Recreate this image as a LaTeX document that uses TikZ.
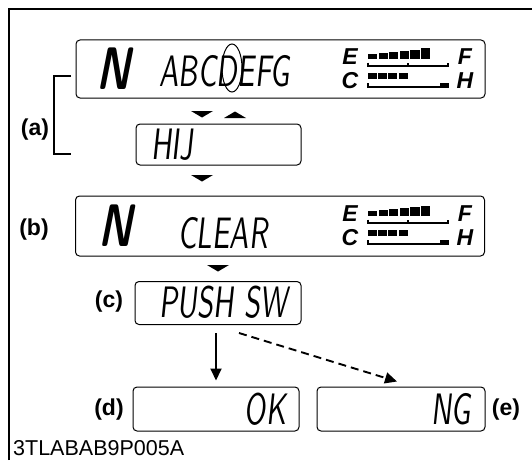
\documentclass[tikz,border=0pt]{standalone}
\usepackage{fontspec}
\setmainfont{Liberation Sans}
\newfontfamily\lcdfont{lmsans10-regular.otf}
\newfontfamily\lcdbfont{lmsans10-bold.otf}
\usetikzlibrary{arrows.meta,calc}

\begin{document}
\begin{tikzpicture}[x=1pt, y=-1pt,
        lcdbox/.style={draw, rounded corners=4pt, line width=1pt, inner sep=0pt},
        bigbox/.style={lcdbox, minimum width=409pt, minimum height=58pt},
        smallbox/.style={lcdbox, minimum width=166pt, minimum height=43pt},
        lcd/.style={inner sep=0pt, font=\lcdfont\fontsize{44}{44}\selectfont, xscale=0.66, xslant=0.16},
        gear/.style={inner sep=0pt, font=\lcdbfont\fontsize{60}{60}\selectfont, xscale=0.7, xslant=0.28},
        gaugetxt/.style={inner sep=0pt, font=\bfseries\itshape\fontsize{23}{23}\selectfont},
        tag/.style={inner sep=0pt, font=\bfseries\fontsize{23}{23}\selectfont},
        arr/.style={-{Triangle[length=12pt,width=11pt]}, line width=1.9pt}]
        \useasboundingbox (0,0) rectangle (532,460);
        % frame
        \path[draw, line width=1.6pt](9,460)--(9,9)--(532,9);
        % displays
        \node[bigbox] (top) at (280.5,69) {};
        \node[lcdbox, minimum width=165pt, minimum height=41pt] (hij) at (218.5,144.5) {};
        \node[bigbox, minimum height=60pt] (clr) at (280,226) {};
        \node[smallbox] (push) at (218,303) {};
        \node[smallbox, minimum height=44pt] (ok) at (216,409) {};
        \node[smallbox, minimum height=44pt, minimum width=168pt] (ng) at (401,409) {};
        % texts
        \node[gear] (gear1) at (117,69) {N};
        \node[lcd] (abc) at (226.5,71) {ABCDEFG};
        \path[draw, line width=1pt](232,68) ellipse [x radius=10, y radius=24];
        \node[lcd] (hijtxt) at (174,145) {HIJ};
        \node[gear] (gear2) at (119,226) {N};
        \node[lcd] (clrtxt) at (224.5,233) {CLEAR};
        \node[lcd] (pushtxt) at (225,302) {PUSH SW};
        \node[lcd, anchor=east] (oktxt) at (288,409) {OK};
        \node[lcd, anchor=east] (ngtxt) at (473,409) {NG};
        % gauges
        \foreach \dy in {0,157}
        {
            \begin{scope}[shift={(0,\dy)}]
                \node[gaugetxt] (E\dy) at (350,56.5) {E};
                \node[gaugetxt] (C\dy) at (350,80.5) {C};
                \node[gaugetxt] (F\dy) at (465,56.5) {F};
                \node[gaugetxt] (H\dy) at (465,80.5) {H};
                \foreach \i in {0,...,5}
                {
                    \path[fill](368+\i*10.6,59) rectangle ++(9.2,-5-\i*1.1);
                }
                \foreach \i in {0,...,3}
                {
                    \path[fill](368+\i*10.2,72.5) rectangle ++(8.9,6.5);
                }
                \path[draw, line width=1.3pt](368,62.5)--(368,66)--(448,66)--(448,62.5);
                \path[draw, line width=1.3pt](408,66)--(408,62.5);
                \path[draw, line width=1.3pt](368,83)--(368,87)--(448,87);
                \path[fill](440,83)rectangle(448.6,87.6);
            \end{scope}
        }
        % cursor marks
        \foreach \cx/\cy in {202/111, 202/175, 218/265}
        {
            \path[fill](\cx-11,\cy)--(\cx+11,\cy)--(\cx,\cy+6.5)--cycle;
        }
        \path[fill](224,118)--(246,118)--(235,111.5)--cycle;
        % bracket and labels
        \path[draw, line width=1.5pt](71,76)-|(54,154)--(71,154);
        \node[tag] (la) at (35,130) {(a)};
        \node[tag] (lb) at (34,230) {(b)};
        \node[tag] (lc) at (109,302) {(c)};
        \node[tag] (ld) at (109,410) {(d)};
        \node[tag] (le) at (506,410) {(e)};
        % results
        \path[draw, arr, shorten <=8pt, shorten >=6pt](push.south -| ok.north)--(ok.north);
        \path[draw, arr, dash pattern=on 8pt off 5pt]([xshift=21pt,yshift=-8pt]push.south)--([xshift=-4pt,yshift=5pt]ng.north);
        \node[anchor=base west, inner sep=0pt, font=\fontsize{21.5}{21.5}\selectfont] (code) at (13,455) {3TLABAB9P005A};
    \end{tikzpicture}
\end{document}
